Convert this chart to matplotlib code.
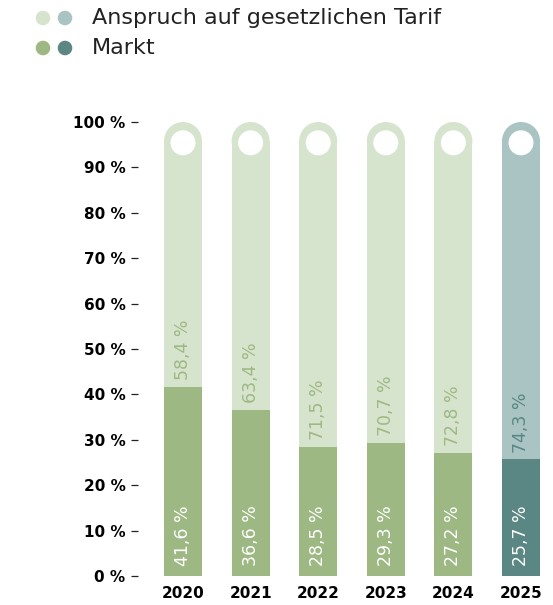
import matplotlib
matplotlib.use('Agg')
import matplotlib.pyplot as plt
from matplotlib.patches import Rectangle, Ellipse

years = ['2020', '2021', '2022', '2023', '2024', '2025']
markt = [41.6, 36.6, 28.5, 29.3, 27.2, 25.7]
tarif = [58.4, 63.4, 71.5, 70.7, 72.8, 74.3]
ytick_vals = [0, 10, 20, 30, 40, 50, 60, 70, 80, 90, 100]

# colours: normal years and the highlighted (forecast) year
light_green = '#d7e4cd'
green = '#9db883'
light_teal = '#aac4c3'
teal = '#5a8783'

plt.rcParams['font.family'] = ['DejaVu Sans']

W, H = 553, 605
fig = plt.figure(figsize=(W / 100, H / 100), dpi=100)

# axes placed in pixels: left 138, right 553, y 0% at 576, 100% at 122
left, right, y0, y100 = 138, 553, 576, 122
ax = fig.add_axes([left / W, (H - y0) / H, (right - left) / W, (y0 - y100) / H])

step_px = 67.6
first_px = 183
ax.set_xlim((left - first_px) / step_px, (right - first_px) / step_px)
ax.set_ylim(0, 100)

px_per_x = step_px
px_per_y = (y0 - y100) / 100.0
bw = 38 / px_per_x
r_y = 19 / px_per_y
hole_w = 25 / px_per_x
hole_h = 25 / px_per_y

for i, (yr, m, t) in enumerate(zip(years, markt, tarif)):
    hi = yr == '2025'
    c_up = light_teal if hi else light_green
    c_low = teal if hi else green
    ax.add_patch(Rectangle((i - bw / 2, 0), bw, m, color=c_low, lw=0))
    ax.add_patch(Rectangle((i - bw / 2, m), bw, 100 - r_y - m, color=c_up, lw=0))
    ax.add_patch(Ellipse((i, 100 - r_y), bw, 2 * r_y, color=c_up, lw=0))
    ax.add_patch(Ellipse((i, 100 - r_y - 0.4), hole_w, hole_h, color='white', lw=0))
    ax.text(i, m + 1.5, f'{t:.1f} %'.replace('.', ','), rotation=90,
            ha='center', va='bottom', fontsize=12.5, color=c_low)
    ax.text(i, 2.2, f'{m:.1f} %'.replace('.', ','), rotation=90,
            ha='center', va='bottom', fontsize=12.5, color='white')

ax.set_xticks(range(len(years)))
ax.set_xticklabels(years, fontsize=11, fontweight='bold')
ax.tick_params(axis='x', length=0, pad=7)
ax.set_yticks(ytick_vals)
ax.set_yticklabels([f'{v} %' for v in ytick_vals], fontsize=11, fontweight='bold')
ax.tick_params(axis='y', length=5, width=0.9, pad=4, color='#222222')
for s in ax.spines.values():
    s.set_visible(False)

# legend drawn in figure pixel coordinates
lg = fig.add_axes([0, 0, 1, 1])
lg.set_xlim(0, W)
lg.set_ylim(H, 0)
lg.axis('off')
lg.scatter([43, 65], [18, 18], s=110, c=[light_green, light_teal], lw=0)
lg.scatter([43, 65], [48, 48], s=110, c=[green, teal], lw=0)
lg.text(92, 18, 'Anspruch auf gesetzlichen Tarif', fontsize=16, va='center', color='#222222')
lg.text(92, 48, 'Markt', fontsize=16, va='center', color='#222222')

fig.savefig('out.png', dpi=100)
